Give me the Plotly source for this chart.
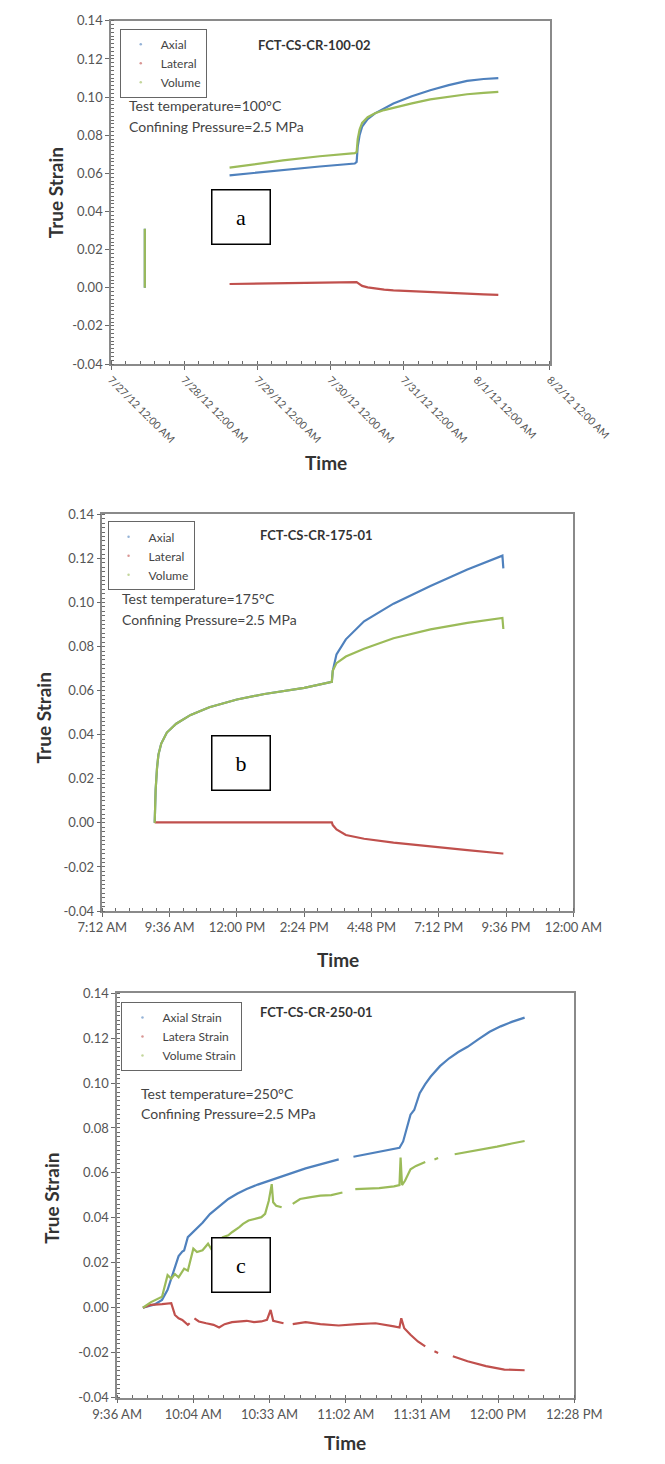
import plotly.graph_objects as go

# ---------------- colours / fonts ----------------
C_AX = "#4F81BD"
C_LA = "#C0504D"
C_VO = "#9BBB59"
FONT = "Lato"

# ---------------- common y axis ----------------
y_tickvals = [-0.04, -0.02, 0.00, 0.02, 0.04, 0.06, 0.08, 0.10, 0.12, 0.14]
y_ticktext = ["-0.04", "-0.02", "0.00", "0.02", "0.04", "0.06", "0.08", "0.10", "0.12", "0.14"]

# ---------------- panel a : FCT-CS-CR-100-02 ----------------
a_time = ["2012-07-27 11:05", "2012-07-27 11:05", "2012-07-28 00:00",
          "2012-07-28 14:53", "2012-07-28 22:45", "2012-07-29 08:24", "2012-07-29 20:30",
          "2012-07-30 07:58", "2012-07-30 08:34", "2012-07-30 08:55", "2012-07-30 09:32",
          "2012-07-30 10:22", "2012-07-30 12:11", "2012-07-30 14:36", "2012-07-30 17:37",
          "2012-07-30 20:38", "2012-07-31 02:41", "2012-07-31 08:43", "2012-07-31 14:46",
          "2012-07-31 20:48", "2012-08-01 02:14", "2012-08-01 07:03"]
a_axial = [0.0, 0.031, None,
           0.0590, 0.0603, 0.0618, 0.0636, 0.0652, 0.0660, 0.0740, 0.0800, 0.0845, 0.0885,
           0.0915, 0.0943, 0.0967, 0.1005, 0.1036, 0.1063, 0.1085, 0.1095, 0.1100]
a_lateral = [None, None, None,
             0.0020, 0.0022, 0.0024, 0.0027, 0.0030, 0.0030, 0.0026, 0.0020, 0.0010, 0.0002,
             -0.0005, -0.0010, -0.0014, -0.0019, -0.0023, -0.0027, -0.0031, -0.0034, -0.0037]
a_volume = [0.0, 0.031, None,
            0.0630, 0.0648, 0.0668, 0.0690, 0.0706, 0.0712, 0.0780, 0.0830, 0.0865, 0.0895,
            0.0915, 0.0932, 0.0945, 0.0967, 0.0988, 0.1003, 0.1015, 0.1022, 0.1028]
a_tickvals = ["2012-07-27", "2012-07-28", "2012-07-29", "2012-07-30", "2012-07-31",
              "2012-08-01", "2012-08-02"]
a_ticktext = ["7/27/12 12:00 AM", "7/28/12 12:00 AM", "7/29/12 12:00 AM", "7/30/12 12:00 AM",
              "7/31/12 12:00 AM", "8/1/12 12:00 AM", "8/2/12 12:00 AM"]

# ---------------- panel b : FCT-CS-CR-175-01 ----------------
b_time = ["09:04", "09:06", "09:09", "09:12", "09:18", "09:30", "09:50", "10:21", "11:01",
          "12:00", "12:59", "14:24", "15:23", "15:25", "15:33", "15:53", "16:32", "17:35",
          "18:54", "20:13", "21:28", "21:30"]
b_axial = [0.0000, 0.0150, 0.0250, 0.0310, 0.0360, 0.0410, 0.0450, 0.0490, 0.0525,
           0.0560, 0.0585, 0.0613, 0.0640, 0.0690, 0.0765, 0.0833, 0.0915, 0.0995,
           0.1075, 0.1150, 0.1213, 0.1155]
b_lateral = [0.0002, 0.0002, 0.0002, 0.0002, 0.0002, 0.0002, 0.0002, 0.0002, 0.0002,
             0.0002, 0.0002, 0.0002, 0.0002, -0.0010, -0.0030, -0.0055, -0.0072, -0.0090,
             -0.0108, -0.0124, -0.0139, -0.0139]
b_volume = [0.0000, 0.0150, 0.0250, 0.0310, 0.0360, 0.0410, 0.0450, 0.0490, 0.0525,
            0.0560, 0.0585, 0.0613, 0.0640, 0.0690, 0.0725, 0.0755, 0.0790, 0.0838,
            0.0878, 0.0908, 0.0930, 0.0880]
b_tickvals = ["07:12", "09:36", "12:00", "14:24", "16:48", "19:12", "21:36", "24:00"]
b_ticktext = ["7:12 AM", "9:36 AM", "12:00 PM", "2:24 PM", "4:48 PM", "7:12 PM", "9:36 PM", "12:00 AM"]

# ---------------- panel c : FCT-CS-CR-250-01 ----------------
c_ax_time = ["09:45:44", "09:50:11", "09:52:58", "09:55:04", "09:56:27", "09:57:50", "09:59:14",
             "10:00:38", "10:01:19", "10:02:43", "10:05:30", "10:08:17", "10:11:04", "10:14:32",
             "10:18:01", "10:21:30", "10:24:58", "10:29:09", "10:33:19", "10:37:30", "10:41:40",
             "10:47:14", "10:52:48", "10:59:45", "11:02:30", "11:05:19", "11:13:40", "11:20:38",
             "11:22:43", "11:24:06", "11:25:30", "11:26:53", "11:28:17", "11:30:22", "11:32:27",
             "11:34:32", "11:38:01", "11:41:30", "11:44:58", "11:48:27", "11:52:38", "11:56:48",
             "12:00:58", "12:05:09", "12:10:01"]
c_axial = [0.0000, 0.0015, 0.0035, 0.0080, 0.0130, 0.0180, 0.0230, 0.0250, 0.0255, 0.0314,
           0.0344, 0.0378, 0.0417, 0.0452, 0.0484, 0.0508, 0.0528, 0.0548, 0.0565, 0.0580,
           0.0600, 0.0620, 0.0638, 0.0660, None, 0.0672, 0.0690, 0.0705, 0.0712, 0.0740,
           0.0800, 0.0859, 0.0880, 0.0955, 0.0995, 0.1029, 0.1075, 0.1110, 0.1138, 0.1161,
           0.1195, 0.1228, 0.1252, 0.1272, 0.1291]

c_la_time = ["09:45:44", "09:48:48", "09:52:58", "09:56:27", "09:57:50", "09:59:14", "10:00:38",
             "10:02:43", "10:03:25", "10:04:00", "10:05:13", "10:06:53", "10:09:40", "10:12:27",
             "10:14:32", "10:16:38", "10:19:25", "10:22:11", "10:24:58", "10:27:45", "10:30:32",
             "10:32:38", "10:34:01", "10:34:59", "10:37:30", "10:38:53", "10:40:00", "10:42:22",
             "10:47:14", "10:52:48", "10:59:45", "11:06:43", "11:13:40", "11:20:38", "11:22:43",
             "11:23:24", "11:24:31", "11:26:53", "11:29:40", "11:32:27", "11:34:00", "11:35:56",
             "11:37:19", "11:40:00", "11:42:53", "11:48:27", "11:55:25", "12:02:22", "12:10:01"]
c_lateral = [0.0000, 0.0013, 0.0016, 0.0020, -0.0032, -0.0047, -0.0054, -0.0076, -0.0069, None,
             -0.0047, -0.0061, -0.0069, -0.0076, -0.0088, -0.0073, -0.0064, -0.0061, -0.0058,
             -0.0064, -0.0061, -0.0054, -0.0010, -0.0058, -0.0064, -0.0069, None, -0.0073,
             -0.0064, -0.0073, -0.0079, -0.0073, -0.0069, -0.0083, -0.0088, -0.0047, -0.0091,
             -0.0120, -0.0150, -0.0172, None, -0.0194, -0.0201, None, -0.0216, -0.0238,
             -0.0260, -0.0275, -0.0278]

c_vo_time = ["09:45:44", "09:48:48", "09:52:58", "09:54:22", "09:55:04", "09:56:27", "09:57:50",
             "09:59:14", "10:01:19", "10:02:43", "10:04:48", "10:06:11", "10:08:17", "10:10:22",
             "10:11:45", "10:13:51", "10:15:56", "10:18:01", "10:19:25", "10:22:11", "10:23:35",
             "10:25:40", "10:27:45", "10:30:32", "10:31:56", "10:33:19", "10:34:26", "10:34:59",
             "10:36:06", "10:38:11", "10:40:00", "10:42:22", "10:45:09", "10:48:38", "10:52:48",
             "10:56:58", "11:01:09", "11:03:00", "11:06:01", "11:10:53", "11:15:04", "11:20:38",
             "11:22:43", "11:23:08", "11:23:41", "11:24:48", "11:26:53", "11:28:58", "11:31:04",
             "11:32:27", "11:34:00", "11:35:56", "11:37:19", "11:40:00", "11:43:35", "11:48:27",
             "11:54:01", "11:59:35", "12:05:09", "12:10:01"]
c_volume = [0.0000, 0.0025, 0.0049, 0.0120, 0.0145, 0.0130, 0.0150, 0.0135, 0.0174, 0.0165,
            0.0263, 0.0248, 0.0256, 0.0285, 0.0258, 0.0292, 0.0314, 0.0322, 0.0336, 0.0359,
            0.0373, 0.0388, 0.0395, 0.0403, 0.0418, 0.0476, 0.0550, 0.0469, 0.0454, 0.0447,
            None, 0.0462, 0.0484, 0.0491, 0.0499, 0.0501, 0.0513, None, 0.0528, 0.0531,
            0.0532, 0.0540, 0.0546, 0.0668, 0.0546, 0.0565, 0.0616, 0.0631, 0.0643, 0.0649,
            None, 0.0660, 0.0666, None, 0.0683, 0.0693, 0.0705, 0.0717, 0.0731, 0.0742]
c_tickvals = ["09:36:00", "10:04:48", "10:33:36", "11:02:24", "11:31:12", "12:00:00", "12:28:48"]
c_ticktext = ["9:36 AM", "10:04 AM", "10:33 AM", "11:02 AM", "11:31 AM", "12:00 PM", "12:28 PM"]

B_DAY = "2012-08-06"
C_DAY = "2012-08-14"


def bday(t):
    if t == "24:00":
        return "2012-08-07 00:00"
    return f"{B_DAY} {t}"


def cday(t):
    return f"{C_DAY} {t}"


# ---------------- labels ----------------
panels = [
    dict(title="FCT-CS-CR-100-02", temp="Test temperature=100°C", tag="a",
         legend_names=["Axial", "Lateral", "Volume"]),
    dict(title="FCT-CS-CR-175-01", temp="Test temperature=175°C", tag="b",
         legend_names=["Axial", "Lateral", "Volume"]),
    dict(title="FCT-CS-CR-250-01", temp="Test temperature=250°C", tag="c",
         legend_names=["Axial Strain", "Latera Strain", "Volume Strain"]),
]
PRESSURE = "Confining Pressure=2.5 MPa"

W, H = 665, 1464


def px_x(p):
    return p / W


def px_y(p):
    return 1 - p / H


# plot areas in pixels: left, right, top, bottom
areas = [(99, 604, 13, 360), (89, 631, 512, 913), (106, 632, 996, 1405)]

fig = go.Figure()

series = [
    ("a", [a_time, a_time, a_time], [a_axial, a_lateral, a_volume]),
    ("b", [[bday(t) for t in b_time]] * 3, [b_axial, b_lateral, b_volume]),
    ("c", [[cday(t) for t in c_ax_time], [cday(t) for t in c_la_time], [cday(t) for t in c_vo_time]],
     [c_axial, c_lateral, c_volume]),
]
colors = [C_AX, C_LA, C_VO]

for i, (tag, xs, ys) in enumerate(series):
    xa = "x" if i == 0 else f"x{i+1}"
    ya = "y" if i == 0 else f"y{i+1}"
    lg = "legend" if i == 0 else f"legend{i+1}"
    names = panels[i]["legend_names"]
    for k in range(3):
        fig.add_trace(go.Scatter(x=xs[k], y=ys[k], mode="lines", name=names[k],
                                 line=dict(color=colors[k], width=2.2),
                                 xaxis=xa, yaxis=ya, showlegend=False, legend=lg))
    for k in range(3):
        fig.add_trace(go.Scatter(x=[None], y=[None], mode="markers", name=names[k],
                                 marker=dict(color=colors[k], size=2.5, opacity=0.6),
                                 xaxis=xa, yaxis=ya, showlegend=True, legend=lg))

axis_common = dict(showline=True, mirror=True, linecolor="#8a8a8a", linewidth=1.5,
                   showgrid=False, zeroline=False, ticks="outside", ticklen=4,
                   tickcolor="#6a6a6a", tickfont=dict(family=FONT, size=13, color="#555555"))

layout = dict(width=W, height=H, margin=dict(l=0, r=0, t=0, b=0),
              paper_bgcolor="white", plot_bgcolor="white",
              font=dict(family=FONT), annotations=[], shapes=[])

x_ranges = [["2012-07-27", "2012-08-02"],
            [bday("07:12"), bday("24:00")],
            [cday("09:36:00"), cday("12:28:48")]]
x_tickvals = [a_tickvals, [bday(t) for t in b_tickvals], [cday(t) for t in c_tickvals]]
x_ticktexts = [a_ticktext, b_ticktext, c_ticktext]
minor_dt = [86400000 / 5, 1728000, 345600]

for i in range(3):
    L, R, T, B = areas[i]
    xk = "xaxis" if i == 0 else f"xaxis{i+1}"
    yk = "yaxis" if i == 0 else f"yaxis{i+1}"
    ya = "y" if i == 0 else f"y{i+1}"
    xa = "x" if i == 0 else f"x{i+1}"
    xax = dict(axis_common, type="date", domain=[px_x(L), px_x(R)], anchor=ya,
               range=x_ranges[i], tickmode="array", tickvals=x_tickvals[i],
               ticktext=x_ticktexts[i],
               minor=dict(ticks="inside", ticklen=3, tickcolor="#6a6a6a",
                          dtick=minor_dt[i], tick0=x_ranges[i][0]))
    if i == 0:
        xax["tickangle"] = 45
        xax["tickfont"] = dict(family=FONT, size=10.5, color="#555555")
    layout[xk] = xax
    layout[yk] = dict(axis_common, domain=[px_y(B), px_y(T)], anchor=xa,
                      range=[-0.04, 0.14], tickmode="array", tickvals=y_tickvals,
                      ticktext=y_ticktext,
                      minor=dict(ticks="inside", ticklen=3, tickcolor="#6a6a6a", dtick=0.002,
                                 tick0=0))

# legends
leg_pos = [(109, 21), (95, 519), (111, 1005)]
for i in range(3):
    lk = "legend" if i == 0 else f"legend{i+1}"
    layout[lk] = dict(x=px_x(leg_pos[i][0]), y=px_y(leg_pos[i][1]), xanchor="left",
                      yanchor="top", bordercolor="#666666", borderwidth=1, bgcolor="white",
                      font=dict(family=FONT, size=12, color="#444444"), itemwidth=30,
                      tracegroupgap=0)

# annotations
title_pos = [(333, 37), (335, 533), (335, 1015)]
temp_pos = [(117, 99, 120), (109, 597, 618), (131, 1097, 1118)]
box_pos = [(249, 211), (249, 763), (249, 1271)]
ytitle_pos = [(36, 187), (21, 718), (31, 1203)]
xtitle_pos = [(346, 460), (360, 962), (368, 1450)]

ann = layout["annotations"]
for i in range(3):
    p = panels[i]
    ann.append(dict(text=f"<b>{p['title']}</b>", x=px_x(title_pos[i][0]), y=px_y(title_pos[i][1]),
                    xref="paper", yref="paper", showarrow=False, xanchor="center", yanchor="middle",
                    font=dict(family=FONT, size=13, color="#333333")))
    ann.append(dict(text=p["temp"], x=px_x(temp_pos[i][0]), y=px_y(temp_pos[i][1]),
                    xref="paper", yref="paper", showarrow=False, xanchor="left", yanchor="middle",
                    font=dict(family=FONT, size=14, color="#444444")))
    ann.append(dict(text=PRESSURE, x=px_x(temp_pos[i][0]), y=px_y(temp_pos[i][2]),
                    xref="paper", yref="paper", showarrow=False, xanchor="left", yanchor="middle",
                    font=dict(family=FONT, size=14, color="#444444")))
    ann.append(dict(text=p["tag"], x=px_x(box_pos[i][0]), y=px_y(box_pos[i][1]),
                    xref="paper", yref="paper", showarrow=False, xanchor="center", yanchor="middle",
                    width=57, height=53, borderpad=0, bordercolor="black", borderwidth=1.5,
                    bgcolor="white", font=dict(family="Liberation Serif", size=22, color="black")))
    ann.append(dict(text="<b>True Strain</b>", x=px_x(ytitle_pos[i][0]), y=px_y(ytitle_pos[i][1]),
                    xref="paper", yref="paper", showarrow=False, textangle=-90,
                    xanchor="center", yanchor="middle",
                    font=dict(family=FONT, size=19, color="#333333")))
    ann.append(dict(text="<b>Time</b>", x=px_x(xtitle_pos[i][0]), y=px_y(xtitle_pos[i][1]),
                    xref="paper", yref="paper", showarrow=False,
                    xanchor="center", yanchor="middle",
                    font=dict(family=FONT, size=19, color="#333333")))

fig.update_layout(**layout)
fig.write_html("out.html")
